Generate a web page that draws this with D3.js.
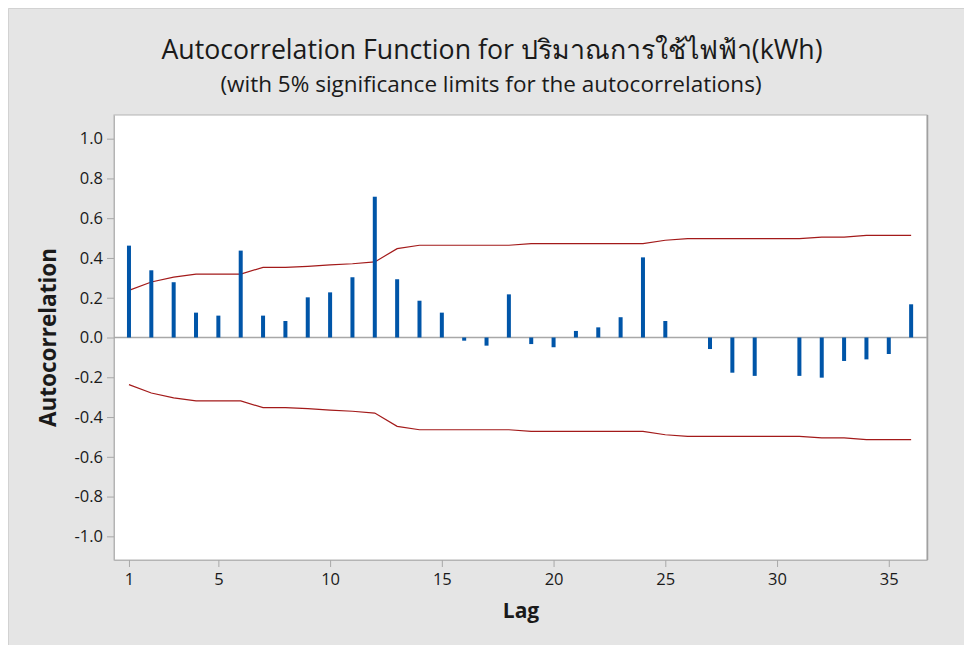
<!DOCTYPE html>
<html>
<head>
<meta charset="utf-8">
<script src="https://cdn.jsdelivr.net/npm/d3@7"></script>
<style>
  html, body { margin: 0; padding: 0; background: #ffffff; }
  svg { display: block; }
  text { font-family: "Open Sans", "Noto Sans", "DejaVu Sans", sans-serif; fill: #1a1a1a; }
</style>
</head>
<body>
<svg id="chart" width="964" height="645"></svg>
<script>
// Lags 1..36 and their sample autocorrelations
const lags = d3.range(1, 37);
const acf = [
  0.462, 0.338, 0.278, 0.125, 0.110, 0.437, 0.110, 0.083, 0.202, 0.227, 0.303, 0.708,
  0.293, 0.185, 0.125, -0.016, -0.041, 0.217, -0.033, -0.049, 0.033, 0.051, 0.102, 0.403,
  0.083, 0.000, -0.058, -0.177, -0.193, 0.000, -0.193, -0.202, -0.118, -0.110, -0.083, 0.167
];
// 5% significance limits (upper; lower is the mirror)
const limit = [
  0.237, 0.279, 0.304, 0.319, 0.319, 0.319, 0.353, 0.353, 0.358, 0.365, 0.371, 0.380,
  0.447, 0.464, 0.464, 0.464, 0.464, 0.464, 0.472, 0.472, 0.472, 0.472, 0.472, 0.472,
  0.489, 0.497, 0.497, 0.497, 0.497, 0.497, 0.497, 0.505, 0.505, 0.514, 0.514, 0.514
];
const xTicks = [1, 5, 10, 15, 20, 25, 30, 35];
const yTicks = [-1.0, -0.8, -0.6, -0.4, -0.2, 0.0, 0.2, 0.4, 0.6, 0.8, 1.0];

const titleText = "Autocorrelation Function for ปริมาณการใช้ไฟฟ้า(kWh)";
const subtitleText = "(with 5% significance limits for the autocorrelations)";

const svg = d3.select("#chart");
const W = 964, H = 645;
const plot = { left: 114, top: 115, right: 927, bottom: 560 };

// Grey panel behind everything
svg.append("rect").attr("x", 8).attr("y", 8).attr("width", W - 8).attr("height", H - 8)
  .attr("fill", "#e5e5e5");
svg.append("path").attr("d", `M8.5,${H}V8.5H${W}`).attr("fill", "none")
  .attr("stroke", "#d2d2d2").attr("stroke-width", 1);

const x = d3.scaleLinear().domain([0.33, 36.71]).range([plot.left, plot.right]);
const y = d3.scaleLinear().domain([-1.119, 1.119]).range([plot.bottom, plot.top]);

// Data region
svg.append("rect")
  .attr("x", plot.left).attr("y", plot.top)
  .attr("width", plot.right - plot.left).attr("height", plot.bottom - plot.top)
  .attr("fill", "#ffffff").attr("stroke", "#b4b4b4").attr("stroke-width", 1);
svg.append("line")
  .attr("x1", plot.right + 0.5).attr("x2", plot.right + 0.5)
  .attr("y1", plot.top).attr("y2", plot.bottom)
  .attr("stroke", "#a0a0a0").attr("stroke-width", 1.5);

// Axes
const yAxis = d3.axisLeft(y).tickValues(yTicks).tickSize(7).tickSizeOuter(0).tickPadding(4)
  .tickFormat(d => d3.format(".1f")(d).replace("−", "-"));
const gy = svg.append("g").attr("transform", `translate(${plot.left},0)`).call(yAxis);
gy.select(".domain").attr("stroke", "#b4b4b4");
gy.selectAll(".tick line").attr("stroke", "#a8a8a8");
gy.selectAll(".tick text").attr("font-size", 16.5).attr("fill", "#1a1a1a");

const xAxis = d3.axisBottom(x).tickValues(xTicks).tickSize(7).tickSizeOuter(0).tickPadding(6);
const gx = svg.append("g").attr("transform", `translate(0,${plot.bottom})`).call(xAxis);
gx.select(".domain").attr("stroke", "#b4b4b4");
gx.selectAll(".tick line").attr("stroke", "#a8a8a8");
gx.selectAll(".tick text").attr("font-size", 16.5).attr("fill", "#1a1a1a");

// Zero reference line
svg.append("line")
  .attr("x1", plot.left).attr("x2", plot.right)
  .attr("y1", y(0)).attr("y2", y(0))
  .attr("stroke", "#a8a8a8").attr("stroke-width", 1.5);

// Significance limits
const lineGen = d3.line().x(d => x(d[0])).y(d => y(d[1]));
const upper = lags.map((l, i) => [l, limit[i]]);
const lower = lags.map((l, i) => [l, -limit[i]]);
[upper, lower].forEach(pts => {
  svg.append("path").attr("d", lineGen(pts))
    .attr("fill", "none").attr("stroke", "#a31a1a").attr("stroke-width", 1.2);
});

// ACF spikes
svg.append("g").selectAll("rect").data(lags).join("rect")
  .attr("x", d => x(d) - 2)
  .attr("width", 4)
  .attr("y", (d, i) => y(Math.max(0, acf[i])))
  .attr("height", (d, i) => Math.abs(y(acf[i]) - y(0)))
  .attr("fill", "#0055a8");

// Titles
svg.append("text").attr("x", 492).attr("y", 59).attr("text-anchor", "middle")
  .attr("font-size", 26.7).text(titleText);
svg.append("text").attr("x", 491).attr("y", 92).attr("text-anchor", "middle")
  .attr("font-size", 22.5).text(subtitleText);

svg.append("text").attr("x", 521).attr("y", 618).attr("text-anchor", "middle")
  .attr("font-size", 21).attr("font-weight", "bold").text("Lag");
svg.append("text")
  .attr("transform", `translate(56,${y(0)}) rotate(-90)`)
  .attr("text-anchor", "middle").attr("font-size", 22.5).attr("font-weight", "bold")
  .text("Autocorrelation");
</script>
</body>
</html>
